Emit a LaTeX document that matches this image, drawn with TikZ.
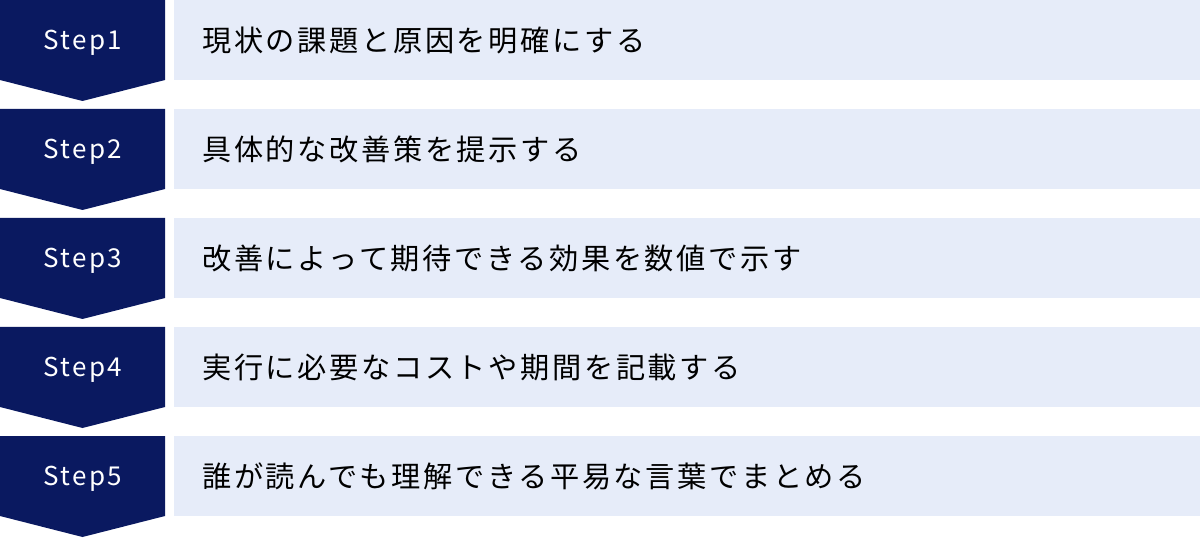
\documentclass[tikz,border=0pt]{standalone}
\usepackage{fontspec}
\setmainfont{Noto Sans CJK JP}
\newfontfamily\jpfont[LetterSpace=9]{Noto Sans CJK JP}
\newfontfamily\stepfont[LetterSpace=9]{Noto Sans CJK JP}
\usetikzlibrary{calc}
\definecolor{stepnavy}{RGB}{10,25,96}
\definecolor{bodyblue}{RGB}{230,236,249}

\begin{document}
\begin{tikzpicture}[x = 0.75pt, y = -0.75pt,
  steplabel/.style = {text = white, font = \stepfont\fontsize{19.5pt}{22pt}\selectfont},
  bodylabel/.style = {anchor = west, text = black, font = \jpfont\fontsize{21.9pt}{24pt}\selectfont}]
\useasboundingbox (0,0) rectangle (1200,538);
\foreach \i/\txt in {1/現状の課題と原因を明確にする,
                     2/具体的な改善策を提示する,
                     3/改善によって期待できる効果を数値で示す,
                     4/実行に必要なコストや期間を記載する,
                     5/誰が読んでも理解できる平易な言葉でまとめる}
{
  \pgfmathsetmacro{\rowtop}{(\i-1)*109}
  \fill [stepnavy] (0,\rowtop) -- (165,\rowtop) -- (165,\rowtop+80) -- (82.5,\rowtop+101) -- (0,\rowtop+80) -- cycle;
  \fill [bodyblue] (174,\rowtop) rectangle (1200,\rowtop+80);
  \node [steplabel] (step\i) at (83,\rowtop+43) {Step\i};
  \node [bodylabel, inner sep = 0pt] (body\i) at (202,\rowtop+40) {\txt};
}
\end{tikzpicture}
\end{document}
